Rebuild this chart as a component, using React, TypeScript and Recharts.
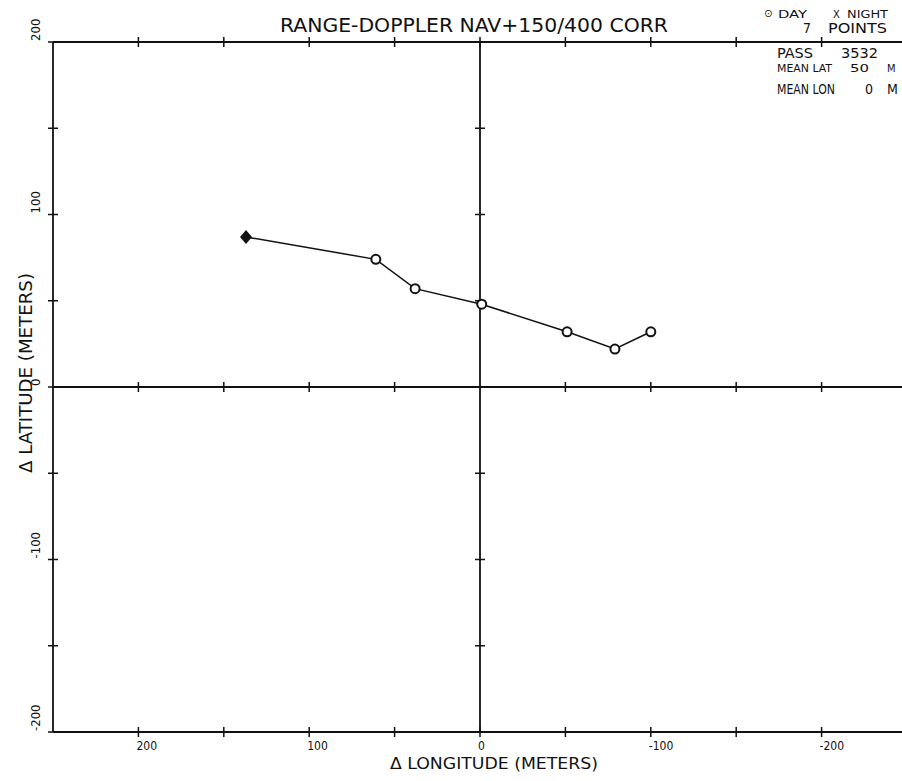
import React from "react";
import {
  ScatterChart,
  Scatter,
  XAxis,
  YAxis,
  ReferenceLine,
  ReferenceDot,
} from "recharts";

// points (meters), first one is the diamond start
const lonValues = [137, 61, 38, -1, -51, -79, -100];
const latValues = [87, 74, 57, 48, 32, 22, 32];
const pointKinds = ["start", "day", "day", "day", "day", "day", "day"];

const axisTicks = [-200, -150, -100, -50, 0, 50, 100, 150, 200];
const labelledTicks = [-200, -100, 0, 100, 200];
const crossTicks = [-200, -150, -100, -50, 50, 100, 150, 200];

const points = lonValues.map((lon, i) => ({
  lon,
  lat: latValues[i],
  kind: pointKinds[i],
}));

const FONT =
  '"Liberation Sans Narrow", "DejaVu Sans Condensed", "DejaVu Sans", sans-serif';
const INK = "#111";

// small "+" marks drawn at scale positions
const vMark = (p: any) => (
  <line x1={p.cx} y1={p.cy - 5} x2={p.cx} y2={p.cy + 5} stroke={INK} strokeWidth={1.5} />
);
const hMark = (p: any) => (
  <line x1={p.cx - 5} y1={p.cy} x2={p.cx + 5} y2={p.cy} stroke={INK} strokeWidth={1.5} />
);

const BottomTick = (props: any) => {
  const { x, y, payload } = props;
  const v = payload.value;
  if (!labelledTicks.includes(v)) return <g />;
  return (
    <text x={x - 2} y={y + 18} fontSize={12} fontFamily={FONT} fill={INK}>
      {v}
    </text>
  );
};

const LeftTick = (props: any) => {
  const { x, y, payload } = props;
  const v = payload.value;
  if (!labelledTicks.includes(v)) return <g />;
  return (
    <text
      x={x - 13}
      y={y - 1}
      fontSize={13}
      fontFamily={FONT}
      fill={INK}
      transform={`rotate(-90 ${x - 13} ${y - 1})`}
    >
      {v}
    </text>
  );
};

const Marker = (props: any) => {
  const { cx, cy, payload } = props;
  if (payload.kind === "start") {
    return (
      <polygon
        points={`${cx},${cy - 7} ${cx + 6},${cy} ${cx},${cy + 7} ${cx - 6},${cy}`}
        fill={INK}
      />
    );
  }
  return <circle cx={cx} cy={cy} r={4.5} fill="#fff" stroke={INK} strokeWidth={2} />;
};

const App: React.FC = () => {
  return (
    <div
      style={{
        position: "absolute",
        left: 0,
        top: 0,
        width: 902,
        height: 781,
        overflow: "hidden",
        background: "#fff",
      }}
    >
      <ScatterChart
        width={910}
        height={781}
        margin={{ top: 0, right: 3, bottom: 0, left: 0 }}
      >
        <XAxis
          type="number"
          dataKey="lon"
          domain={[-250, 250]}
          reversed
          ticks={axisTicks}
          interval={0}
          height={49}
          tickSize={0}
          tickMargin={0}
          tickLine={false}
          axisLine={{ stroke: INK, strokeWidth: 1.8 }}
          tick={<BottomTick />}
        />
        <XAxis
          xAxisId="top"
          orientation="top"
          type="number"
          domain={[-250, 250]}
          reversed
          ticks={axisTicks}
          height={42}
          tickLine={false}
          tick={false}
          axisLine={{ stroke: INK, strokeWidth: 1.8 }}
        />
        <YAxis
          type="number"
          dataKey="lat"
          domain={[-200, 200]}
          ticks={axisTicks}
          interval={0}
          width={53}
          tickSize={0}
          tickMargin={0}
          tickLine={false}
          axisLine={{ stroke: INK, strokeWidth: 1.8 }}
          tick={<LeftTick />}
        />
        <ReferenceLine x={0} stroke={INK} strokeWidth={1.8} />
        <ReferenceLine y={0} stroke={INK} strokeWidth={1.8} />
        {axisTicks.map((v) => (
          <ReferenceDot key={`b${v}`} x={v} y={-200} ifOverflow="visible" shape={vMark} />
        ))}
        {axisTicks.map((v) => (
          <ReferenceDot key={`t${v}`} x={v} y={200} ifOverflow="visible" shape={vMark} />
        ))}
        {axisTicks.map((v) => (
          <ReferenceDot key={`l${v}`} x={250} y={v} ifOverflow="visible" shape={hMark} />
        ))}
        {crossTicks.map((v) => (
          <ReferenceDot key={`h${v}`} x={0} y={v} ifOverflow="visible" shape={hMark} />
        ))}
        {crossTicks.map((v) => (
          <ReferenceDot key={`v${v}`} x={v} y={0} ifOverflow="visible" shape={vMark} />
        ))}
        <Scatter
          data={points}
          line={{ stroke: INK, strokeWidth: 1.5 }}
          shape={<Marker />}
          isAnimationActive={false}
        />
      </ScatterChart>

      <svg
        width={902}
        height={781}
        style={{ position: "absolute", left: 0, top: 0, pointerEvents: "none" }}
        fontFamily={FONT}
        fill={INK}
      >
        <text x={474} y={32} fontSize={19} textAnchor="middle" textLength={388} lengthAdjust="spacingAndGlyphs">
          RANGE-DOPPLER NAV+150/400 CORR
        </text>

        <text x={764} y={17} fontSize={11}>⊙</text>
        <text x={778} y={18} fontSize={10} textLength={29} lengthAdjust="spacingAndGlyphs">DAY</text>
        <text x={833} y={18} fontSize={11}>X</text>
        <text x={847} y={18} fontSize={10} textLength={41} lengthAdjust="spacingAndGlyphs">NIGHT</text>
        <text x={803} y={33} fontSize={14}>7</text>
        <text x={828} y={33} fontSize={14} textLength={59} lengthAdjust="spacingAndGlyphs">POINTS</text>

        <text x={777} y={58} fontSize={14} textLength={36} lengthAdjust="spacingAndGlyphs">PASS</text>
        <text x={841} y={58} fontSize={14} textLength={37} lengthAdjust="spacingAndGlyphs">3532</text>
        <text x={777} y={72} fontSize={11} textLength={55} lengthAdjust="spacingAndGlyphs">MEAN LAT</text>
        <text x={850} y={72} fontSize={11} textLength={19} lengthAdjust="spacingAndGlyphs">50</text>
        <text x={887} y={72} fontSize={11}>M</text>
        <text x={777} y={94} fontSize={14} textLength={58} lengthAdjust="spacingAndGlyphs">MEAN LON</text>
        <text x={865} y={94} fontSize={14}>0</text>
        <text x={887} y={94} fontSize={14}>M</text>

        <text x={390} y={769} fontSize={16} textLength={208} lengthAdjust="spacingAndGlyphs">
          Δ LONGITUDE  (METERS)
        </text>
        <text
          x={32}
          y={473}
          fontSize={17}
          textLength={200}
          lengthAdjust="spacingAndGlyphs"
          transform="rotate(-90 32 473)"
        >
          Δ LATITUDE  (METERS)
        </text>
      </svg>
    </div>
  );
};

export default App;
